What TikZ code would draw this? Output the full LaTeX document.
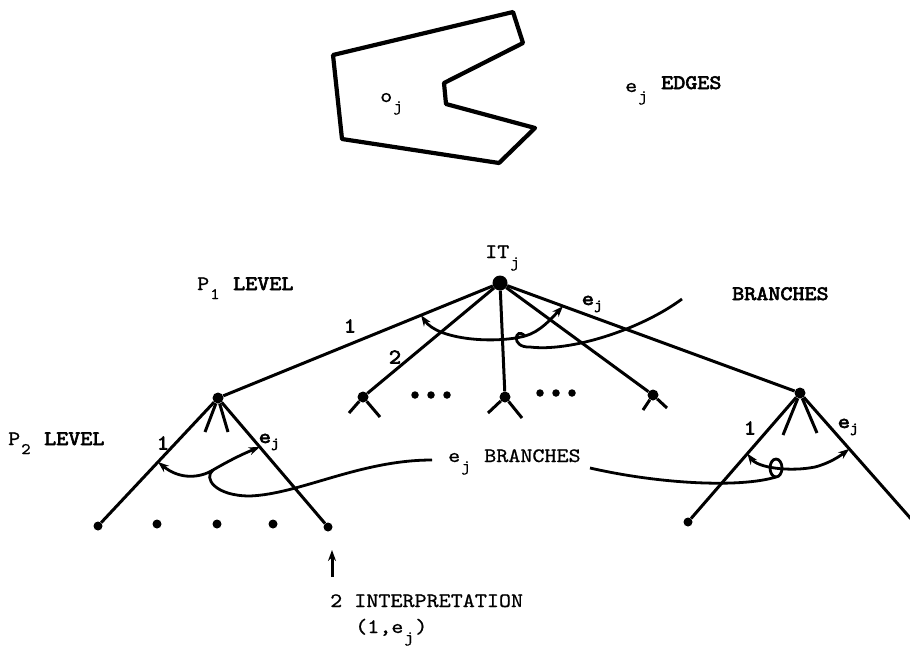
\documentclass[tikz,border=0pt]{standalone}
\usepackage{fontspec}
\setmonofont{lmmono10-regular.otf}[FakeStretch=1.12,UprightFeatures={FakeBold=0.8},BoldFont=lmmono10-regular.otf,BoldFeatures={FakeBold=3}]
\usetikzlibrary{arrows.meta,calc}
\newcommand\dn[1]{\kern1pt\raisebox{-9pt}{\fontsize{16}{17}\selectfont #1}\kern1.5pt\relax}

\begin{document}
\begin{tikzpicture}[x=1pt,y=-1pt,>={Stealth[length=11pt,width=8pt]}]
    \tikzstyle{knot}=[circle,fill,inner sep=0pt,minimum size=11pt]
    \tikzstyle{top}=[knot,minimum size=15pt]
    \tikzstyle{leaf}=[knot,minimum size=9pt]
    \tikzstyle{dot}=[knot,minimum size=7.5pt]
    \tikzstyle{branch}=[line width=3pt]
    \tikzstyle{curve}=[line width=2.8pt]
    \tikzstyle{txt}=[inner sep=0pt,anchor=base west,font=\ttfamily\fontsize{20.5}{24}\selectfont]
    \tikzstyle{hand}=[inner sep=0pt,font=\ttfamily\bfseries\fontsize{21}{22}\selectfont]
    \useasboundingbox (0,0) rectangle (910,648);

    % the object and its edges
    \draw[line width=4.2pt,line join=round] (333,55) -- (513,12) -- (523,43) -- (444,83) -- (446,104) -- (535,128) -- (499,163) -- (342,139) -- cycle;
    \node[txt] (oj) at (380,102) {o\dn{j}};
    \node[txt] (edges) at (625,92) {e\dn{j} \raisebox{3pt}{\bfseries EDGES}};

    % P1 level
    \node[top] (root) at (500,283) {};
    \node[txt] (itj) at (485,258) {IT\dn{j}};
    \foreach \n/\x/\y in {pa/218/398,pb/363/397,pc/505/397,pd/653/395,pe/800/393}{
      \node[knot] (\n) at (\x,\y) {};
      \draw[branch] (root) -- (\n);
    }
    \foreach \n/\s/\dx/\dy in {pa/1/-13/34,pa/2/10/34,pb/1/-14/16,pb/2/17/20,pc/1/-17/16,pc/2/17/21,pd/1/-10/15,pd/2/14/13,pe/1/-17/42,pe/2/17/40}{
      \coordinate (\n\s) at ($(\n)+(\dx,\dy)$);
      \draw[branch] (\n) -- (\n\s);
    }
    \foreach \x in {415,431,447} \node[dot] (da\x) at (\x,395) {};
    \foreach \x in {540,556,572} \node[dot] (db\x) at (\x,393) {};

    % P2 level
    \node[leaf] (la) at (98,526) {};
    \node[leaf] (le) at (328,527) {};
    \foreach \n/\x in {lb/157,lc/217,ld/273} \node[leaf] (\n) at (\x,524) {};
    \draw[branch] (pa) -- (la);
    \draw[branch] (pa) -- (le);
    \node[leaf] (ra) at (688,522) {};
    \coordinate (rb) at (912,520);
    \draw[branch] (pe) -- (ra);
    \draw[branch] (pe) -- (rb);

    % branch labels
    \node[hand] (b1) at (350,326) {1};
    \node[hand] (b2) at (395,357) {2};
    \node[hand] (b3) at (592,304) {e\raisebox{-4pt}{\fontsize{14}{14}\selectfont j}};
    \node[hand] (c1) at (163,443) {1};
    \node[hand] (c2) at (269,442) {e\raisebox{-4pt}{\fontsize{14}{14}\selectfont j}};
    \node[hand] (d1) at (750,428) {1};
    \node[hand] (d2) at (848,427) {e\raisebox{-4pt}{\fontsize{14}{14}\selectfont j}};

    % e_j branches arcs
    \coordinate (t1) at ($(root)!0.28!(pa)$);
    \coordinate (t2) at ($(root)!0.21!(pe)$);
    \coordinate (t3) at ($(pa)!0.5!(la)$);
    \coordinate (t4) at ($(pa)!0.38!(le)$);
    \coordinate (t5) at ($(pe)!0.47!(ra)$);
    \coordinate (t6) at ($(pe)!0.44!(rb)$);
    \coordinate (k1) at (525,336);
    \coordinate (k2) at (213,470);
    \coordinate (k3) at (776,468);
    \coordinate (k3b) at (776,477);
    \coordinate (be1) at (682,299);
    \coordinate (be2) at (432,460);
    \coordinate (be3) at (590,468);
    \draw[curve,<->] (t1) .. controls (438,340) and (495,344) .. (k1) .. controls (540,332) and (552,318) .. (t2);
    \draw[curve] (k1) .. controls (515,326) and (510,348) .. (530,347) .. controls (570,352) and (640,330) .. (be1);
    \draw[curve,<->] (t3) .. controls (180,480) and (200,478) .. (k2) .. controls (225,463) and (240,455) .. (t4);
    \draw[curve] (k2) .. controls (203,478) and (215,496) .. (250,496) .. controls (300,494) and (360,460) .. (be2);
    \draw[curve,<->] (t5) .. controls (758,468) and (790,472) .. (815,467) .. controls (830,463) and (840,456) .. (t6);
    \draw[curve] (k3) circle[x radius=6,y radius=9];
    \draw[curve] (k3b) .. controls (740,488) and (660,484) .. (be3);

    % texts
    \node[txt] (p1) at (197,290) {P\dn{1} \textbf{LEVEL}};
    \node[txt] (br1) at (732,300) {\bfseries BRANCHES};
    \node[txt] (p2) at (8,445) {P\dn{2}  \textbf{LEVEL}};
    \node[txt] (br2) at (448,462) {e\dn{j} BRANCHES};
    \node[txt] (interp) at (330,607) {2 INTERPRETATION};
    \node[txt] (pair) at (355,633) {(1,e\dn{j})};
    \coordinate (foot) at (332,577);
    \coordinate (head) at (332,550);
    \draw[branch,->] (foot) -- (head);
\end{tikzpicture}
\end{document}
